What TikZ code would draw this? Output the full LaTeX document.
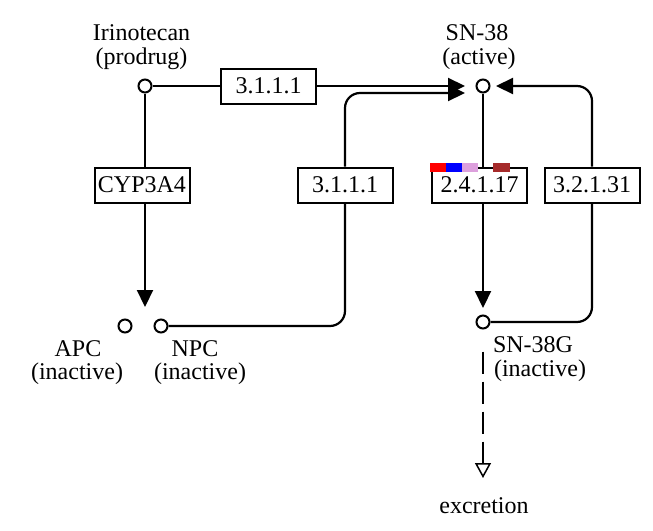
\documentclass[tikz,border=0pt]{standalone}
\usepackage{fontspec}
\setmainfont{Liberation Serif}
\usetikzlibrary{arrows.meta,backgrounds}
\definecolor{bRed}{HTML}{FF0000}
\definecolor{bBlue}{HTML}{0000FF}
\definecolor{bPlum}{HTML}{DDA0DD}
\definecolor{bBrown}{HTML}{A52A2A}
\begin{document}
\begin{tikzpicture}[x=1pt,y=-1pt,
  cpd/.style={circle,draw,line width=2pt,minimum size=13pt,inner sep=0pt,fill=white},
  enz/.style={draw,line width=2pt,minimum width=95pt,minimum height=35pt,inner sep=0pt,fill=white,font=\fontsize{24}{24}\selectfont},
  lbl/.style={anchor=base,inner sep=0pt,font=\fontsize{24}{24}\selectfont},
  conn/.style={line width=2.2pt,rounded corners=15pt},
  tip/.style={-{Triangle[length=17pt,width=16pt]}},
  otip/.style={-{Triangle[open,length=15pt,width=16pt,line width=1.5pt]}},
]
\useasboundingbox (0,0) rectangle (653,530);
% compounds
\node[cpd] (I) at (145,86) {};
\node[cpd] (S) at (483,86) {};
\node[cpd] (A) at (125,326) {};
\node[cpd] (N) at (161,326) {};
\node[cpd] (G) at (483,322) {};
% enzymes
\node[enz] (e1) at (268.5,86) {3.1.1.1};
\node[enz] (cyp) at (142,185) {CYP3A4};
\node[enz] (e2) at (345,185) {3.1.1.1};
\node[enz] (ugt) at (479.5,185) {2.4.1.17};
\node[enz] (gus) at (592,185) {3.2.1.31};
% colour bar
\fill[bRed] (430,163) rectangle (446,172);
\fill[bBlue] (446,163) rectangle (462,172);
\fill[bPlum] (462,163) rectangle (478,172);
\fill[bBrown] (493,163) rectangle (510,172);
% labels
\node[lbl] (lI1) at (141.5,40) {Irinotecan};
\node[lbl] (lI2) at (141.5,64) {(prodrug)};
\node[lbl] (lS1) at (477,40) {SN-38};
\node[lbl] (lS2) at (479,64) {(active)};
\node[lbl] (lA1) at (78,356) {APC};
\node[lbl] (lA2) at (77,379) {(inactive)};
\node[lbl] (lN1) at (195,356) {NPC};
\node[lbl] (lN2) at (200,379) {(inactive)};
\node[lbl] (lG1) at (533,352) {SN-38G};
\node[lbl] (lG2) at (540,376) {(inactive)};
\node[lbl] (lEx) at (484,513) {excretion};
% free ends
\coordinate (sIn1) at (465,86);
\coordinate (sIn2) at (465,93);
\coordinate (sIn3) at (496,86);
\coordinate (cT) at (145,307);
\coordinate (gT) at (483,308);
\coordinate (ex) at (483,478);
\begin{pgfonlayer}{background}
\fill[white] (0,0) rectangle (653,530);
\draw[conn,tip] (I.east) -- (sIn1);
\draw[conn,tip] (I.south) -- (cT);
\draw[conn] (N.east) -| (e2.south);
\draw[conn,tip] (e2.north) |- (sIn2);
\draw[conn,tip] (S.south) -- (gT);
\draw[conn] (G.east) -| (gus.south);
\draw[conn,tip] (gus.north) |- (sIn3);
\draw[line width=2.2pt,dash pattern=on 22pt off 8pt,otip,shorten <=22pt] (G.south) -- (ex);
\end{pgfonlayer}
\end{tikzpicture}
\end{document}
